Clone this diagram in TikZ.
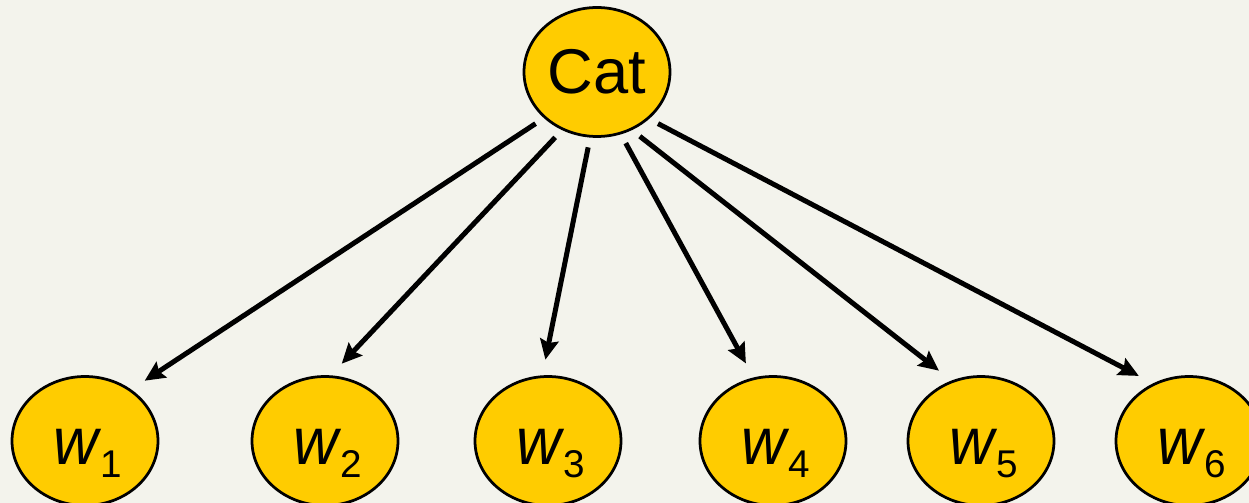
\documentclass[tikz,border=0pt]{standalone}
\usepackage{fontspec}
\setmainfont{Liberation Sans}
\usetikzlibrary{shapes.geometric,arrows.meta}
\definecolor{bgcol}{RGB}{243,243,236}
\definecolor{nodecol}{RGB}{255,204,0}
\newcommand{\wsub}[1]{\hspace{3pt}\scalebox{0.93}[1]{\fontsize{38pt}{38pt}\selectfont\textit{w}}\hspace{-1pt}%
  \raisebox{-7.4pt}{\fontsize{22pt}{22pt}\selectfont #1}}

\begin{document}
\begin{tikzpicture}[x=0.02cm,y=-0.02cm]%
  \tikzstyle{elln}=[ellipse,draw,fill=nodecol,line width=0.055cm,inner sep=0,
    minimum width=2.92cm,minimum height=2.58cm,font=\fontsize{36pt}{36pt}\selectfont]
  \tikzstyle{wordn}=[elln,text height=1.22cm,text depth=0.26cm]
  \tikzstyle{arr}=[-{Stealth[length=0.4cm,width=0.37cm,inset=0.06cm]},
    line width=0.1cm,shorten <=0.2cm,shorten >=0.32cm]
  \fill[bgcol] (0,0) rectangle (1249,503);
  \useasboundingbox (0,0) rectangle (1249,503);
  % class node
  \node(cat)[elln] at (597,72) {Cat};
  % word nodes
  \node(w1)[wordn] at (85,441) {\wsub{1}};
  \node(w2)[wordn] at (325,441) {\wsub{2}};
  \node(w3)[wordn] at (548,441) {\wsub{3}};
  \node(w4)[wordn] at (773,441) {\wsub{4}};
  \node(w5)[wordn] at (981,441) {\wsub{5}};
  \node(w6)[wordn] at (1189,441) {\wsub{6}};
  % edges
  \draw[arr] (cat.221) -- (w1.48);
  \draw[arr] (cat.239) -- (w2.85);
  \draw[arr] (cat.264) -- (w3.95);
  \draw[arr] (cat.291) -- (w4.107);
  \draw[arr] (cat.301) -- (w5.116);
  \draw[arr] (cat.318) -- (w6.122);
\end{tikzpicture}
\end{document}
